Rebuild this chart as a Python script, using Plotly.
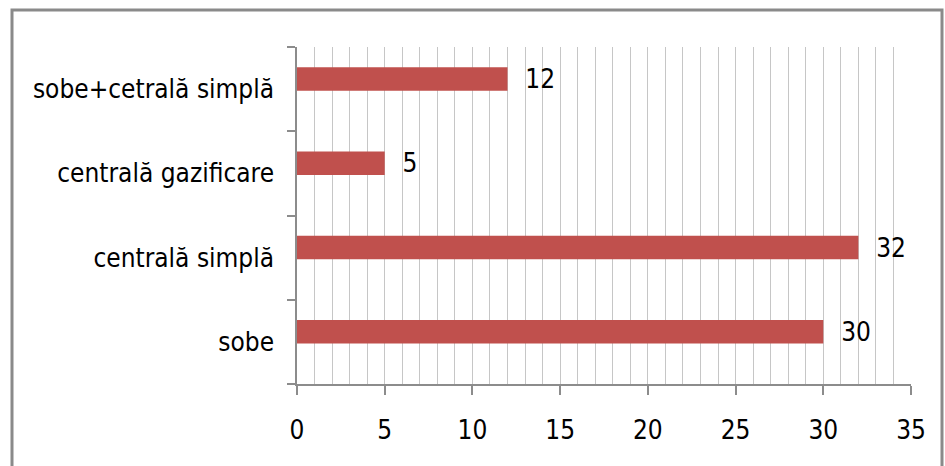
import plotly.graph_objects as go

categories = ["sobe", "centrală simplă", "centrală gazificare", "sobe+cetrală simplă"]
values = [30, 32, 5, 12]
x_ticks = [0, 5, 10, 15, 20, 25, 30, 35]

FONT = "DejaVu Sans Condensed"

W, H = 945, 466
L, R, T, B = 297, 34, 47, 82
pw, ph = W - L - R, H - T - B

fig = go.Figure(go.Bar(
    y=categories, x=values, orientation="h",
    marker=dict(color="#c0504d", line=dict(width=0)),
    width=0.28, offset=-0.02,
    text=[str(v) for v in values],
    texttemplate="  %{text}",
    textposition="outside",
    constraintext="none",
    textfont=dict(family=FONT, size=26, color="#000000"),
    cliponaxis=False,
))

fig.update_layout(
    width=W, height=H,
    margin=dict(l=L, r=R, t=T, b=B),
    paper_bgcolor="white", plot_bgcolor="white",
    showlegend=False,
    uniformtext=dict(mode=False),
    xaxis=dict(
        range=[0, 35], tickvals=x_ticks, ticktext=[str(v) for v in x_ticks],
        showgrid=True, gridcolor="#c6c6c6", gridwidth=1,
        minor=dict(dtick=1, showgrid=True, gridcolor="#c6c6c6", gridwidth=1),
        showline=True, linecolor="#8c8c8c", linewidth=1.5,
        ticks="outside", ticklen=9, tickcolor="#8c8c8c", tickwidth=1.5,
        tickfont=dict(family=FONT, size=26, color="#000000"),
        ticklabelstandoff=13,
        zeroline=False, fixedrange=True, automargin=False,
    ),
    yaxis=dict(
        range=[-0.5, 3.5], tickson="boundaries",
        showgrid=False, showline=True, linecolor="#8c8c8c", linewidth=1.5,
        ticks="outside", ticklen=8, tickcolor="#8c8c8c", tickwidth=1.5,
        tickfont=dict(family=FONT, size=26, color="#000000"),
        ticklabelstandoff=16, zeroline=False, fixedrange=True, automargin=False,
    ),
    shapes=[dict(
        type="rect", xref="paper", yref="paper",
        x0=(12 - L) / pw, x1=(942 - L) / pw,
        y0=(H - B - 475) / ph, y1=(H - B - 10) / ph,
        line=dict(color="#8a8a8a", width=3), fillcolor="rgba(0,0,0,0)", layer="above",
    )],
)

fig.write_html("out.html", config={"displayModeBar": False},
               post_script="document.body.style.margin='0';document.body.style.overflow='hidden';")
